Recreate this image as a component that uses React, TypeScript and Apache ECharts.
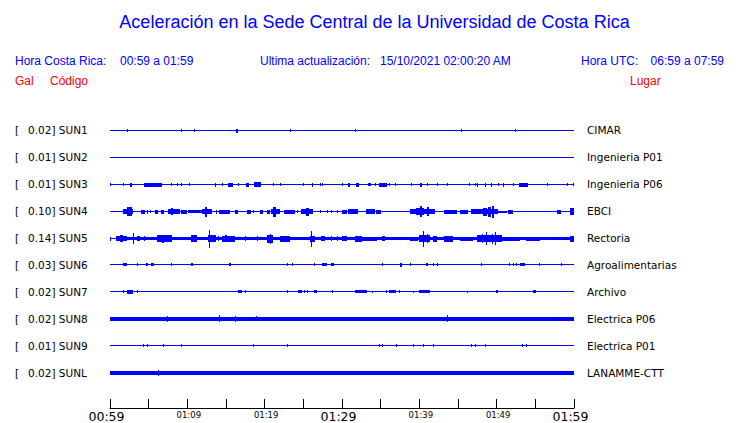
import React, { useEffect, useRef } from "react";
import * as echarts from "echarts";

// Station codes, peak values (gal) and places, top to bottom
const codes = ["SUN1", "SUN2", "SUN3", "SUN4", "SUN5", "SUN6", "SUN7", "SUN8", "SUN9", "SUNL"];
const gals = ["0.02", "0.01", "0.01", "0.10", "0.14", "0.03", "0.02", "0.02", "0.01", "0.02"];
const places = [
  "CIMAR",
  "Ingenieria P01",
  "Ingenieria P06",
  "EBCI",
  "Rectoria",
  "Agroalimentarias",
  "Archivo",
  "Electrica P06",
  "Electrica P01",
  "LANAMME-CTT",
];

// Time axis: minutes after 00:59, ticks every 5 min, labels every 10 min
const tickLabels = ["00:59", "01:09", "01:19", "01:29", "01:39", "01:49", "01:59"];
const majorLabels = ["00:59", "01:29", "01:59"];

// Waveform bursts per station: [start minute, end minute, half amplitude]
const sun1 = [[2.3, 2.3, 1], [9.2, 9.2, 1], [10.9, 10.9, 1], [16.4, 16.5, 1.5], [23.3, 23.3, 1], [31.7, 31.7, 1], [45.4, 45.4, 1], [52.4, 52.4, 1]];
const sun2: number[][] = [];
const sun3 = [[0.1, 0.1, 1], [1.8, 1.8, 1], [2.7, 2.9, 1.5], [4.5, 6.7, 1.5], [8.0, 8.0, 1], [8.7, 8.7, 1], [9.3, 9.3, 1], [10.3, 10.3, 1], [13.6, 13.6, 1.5], [14.6, 14.6, 1], [15.3, 15.9, 1.5], [16.6, 16.6, 1], [17.6, 18.0, 1.5], [18.7, 19.5, 2], [21.1, 21.1, 1], [22.1, 22.1, 1], [25.0, 25.0, 1], [26.2, 26.2, 1.5], [27.2, 27.2, 1], [27.5, 27.5, 1], [30.1, 30.1, 1], [30.8, 31.0, 1.5], [31.9, 32.2, 1.5], [33.4, 33.4, 1], [33.6, 33.7, 1], [34.3, 34.3, 1], [34.9, 35.8, 1.5], [36.2, 36.2, 1], [36.9, 36.9, 1], [39.0, 39.0, 1], [40.1, 40.3, 1.5], [41.0, 41.0, 1], [42.3, 42.3, 1], [43.6, 43.6, 1], [46.5, 46.5, 1], [47.2, 47.2, 1], [47.5, 47.6, 1.5], [48.5, 48.6, 1.5], [49.3, 49.4, 1.5], [50.2, 50.2, 1], [50.9, 51.0, 1.5], [52.2, 52.2, 1], [52.9, 54.0, 1.5], [56.6, 56.6, 1], [59.1, 59.1, 1], [59.9, 60, 1]];
const sun4 = [[1.8, 3.0, 2], [2.3, 2.8, 4], [4.1, 4.5, 1.5], [4.9, 4.9, 1.5], [5.2, 5.2, 1], [5.9, 6.2, 1.5], [6.6, 7.0, 1.5], [7.5, 9.1, 2], [8.0, 8.2, 3], [9.2, 10.0, 1.5], [10.1, 11.9, 1], [12.0, 13.2, 2], [12.3, 12.6, 4.5], [13.8, 13.8, 1.5], [14.2, 15.5, 1.5], [16.2, 16.6, 1.5], [17.8, 18.2, 1.5], [18.5, 18.5, 1], [19.4, 19.8, 1.5], [20.4, 20.7, 1.5], [20.9, 22.0, 2], [21.2, 21.5, 4.5], [22.6, 23.9, 1.5], [24.3, 24.3, 1], [24.8, 26.2, 2], [25.4, 25.7, 3.5], [27.2, 27.2, 1], [28.1, 28.1, 1], [28.7, 28.7, 1], [29.4, 29.4, 1], [30.0, 30.6, 1.5], [30.9, 32.1, 2], [33.2, 34.3, 2], [34.5, 35.0, 1.5], [38.9, 42.0, 2], [39.6, 40.6, 3], [40.1, 40.3, 5], [41.0, 41.2, 4], [43.3, 44.9, 1.5], [45.3, 46.3, 1.5], [46.8, 50.2, 2], [48.3, 48.7, 3.5], [49.0, 49.3, 4.5], [49.4, 49.6, 5.5], [50.3, 51.3, 0.5], [51.5, 52.1, 1.5], [57.9, 58.3, 1.5], [59.5, 60, 3]];
const sun5 = [[0.1, 0.1, 1.5], [0.9, 60, 1], [0.9, 2.2, 2], [1.4, 1.7, 3], [3.0, 3.0, 5], [3.5, 3.9, 2], [4.5, 4.5, 2], [6.1, 8.0, 3], [6.8, 7.0, 3.5], [10.6, 11.2, 3], [12.7, 13.7, 3], [12.9, 12.9, 8.5], [14.0, 14.0, 2], [14.5, 16.2, 2.5], [14.9, 15.1, 3], [17.5, 17.5, 2], [19.1, 19.1, 2], [20.4, 21.1, 3.5], [20.7, 20.7, 4.5], [22.0, 23.3, 2.5], [25.9, 26.5, 2.5], [26.1, 26.1, 7.5], [27.4, 27.8, 2], [28.7, 28.7, 2], [29.4, 29.4, 2], [30.0, 30.6, 2], [31.7, 32.6, 2.5], [32.7, 34.5, 1.5], [35.2, 35.6, 2], [38.8, 39.8, 1.5], [40.0, 41.4, 3], [40.5, 40.5, 7.5], [41.0, 41.0, 4], [41.8, 42.3, 2.5], [43.3, 44.4, 2.5], [45.3, 46.9, 1.5], [47.5, 50.7, 3], [48.2, 48.2, 4], [48.7, 48.7, 6], [49.4, 49.4, 4.5], [49.8, 49.8, 6], [50.8, 53.0, 1.5], [53.9, 55.6, 1.5], [59.5, 60, 2.5]];
const sun6 = [[1.8, 2.2, 1], [3.5, 3.5, 1], [4.7, 4.9, 1], [5.4, 5.7, 1], [7.9, 7.9, 1], [10.6, 10.7, 1], [15.4, 15.6, 1], [23.0, 23.0, 1], [23.6, 23.6, 1], [26.5, 26.5, 1], [27.5, 28.1, 1], [28.6, 29.0, 1], [35.3, 35.3, 1], [37.5, 37.8, 1.5], [38.9, 38.9, 1], [40.9, 41.1, 1], [41.8, 41.8, 1], [42.4, 42.4, 1], [48.1, 48.1, 1], [51.7, 51.7, 1], [52.2, 52.2, 1], [52.6, 52.6, 1], [53.1, 53.7, 1], [55.5, 55.5, 1], [58.4, 58.4, 1]];
const sun7 = [[1.7, 1.7, 1], [2.3, 3.0, 1.5], [3.5, 3.5, 1], [16.6, 17.1, 1], [17.5, 17.5, 1], [23.0, 23.0, 1], [24.4, 24.8, 1], [25.1, 25.1, 1], [25.5, 25.5, 1], [26.5, 26.8, 1], [28.8, 28.8, 1], [31.8, 33.2, 1], [33.9, 33.9, 0.5], [35.7, 35.7, 1], [36.2, 37.0, 1], [37.4, 37.4, 1], [39.2, 39.2, 0.5], [40.0, 41.4, 1], [46.2, 46.2, 0.5], [50.0, 50.2, 1], [54.8, 55.1, 1]];
const sun8 = [[0, 60, 1.5], [7.4, 7.4, 2.5], [14.1, 14.1, 3], [16.2, 16.2, 2.5], [19.0, 19.0, 2], [43.6, 43.6, 3]];
const sun9 = [[4.3, 4.3, 1], [4.9, 4.9, 1], [6.9, 6.9, 1], [9.2, 9.2, 1], [18.5, 18.5, 1], [22.9, 22.9, 1], [34.9, 34.9, 1], [35.3, 35.3, 1], [37.1, 37.1, 1], [39.3, 39.3, 1], [40.5, 40.5, 1], [41.8, 41.8, 1], [46.7, 46.7, 1], [47.3, 47.3, 1], [48.6, 48.6, 1], [53.3, 53.4, 1], [53.9, 53.9, 1]];
const sunL = [[0, 60, 1.5], [6.3, 6.3, 2.5]];

const traces = [sun1, sun2, sun3, sun4, sun5, sun6, sun7, sun8, sun9, sunL];

const BLUE = "#0000ff";
const RED = "#ff0000";
const AMP_PER_ROW = 27; // amplitude units per row spacing

export default function App() {
  const ref = useRef<HTMLDivElement>(null);

  useEffect(() => {
    if (!ref.current) return;
    const chart = echarts.init(ref.current, undefined, { renderer: "svg" });

    const data: number[][] = [];
    traces.forEach((tr, row) => {
      data.push([row, 0, 60, 0]);
      tr.forEach((b) => data.push([row, b[0], b[1], b[2]]));
    });

    const headerText = (text: string, x: number, y: number, color: string, size: number, align = "left") => ({
      type: "text",
      x,
      y,
      silent: true,
      style: {
        text,
        fill: color,
        fontSize: size,
        fontFamily: "Liberation Sans",
        textAlign: align,
        align,
        textVerticalAlign: "middle",
        verticalAlign: "middle",
      },
    });

    const labelFont = { fontFamily: "DejaVu Sans", fontSize: 10.5, color: "#000" };

    const option: any = {
      animation: false,
      backgroundColor: "#fff",
      graphic: [
        headerText("Aceleración en la Sede Central de la Universidad de Costa Rica", 374.5, 22, BLUE, 18, "center"),
        headerText("Hora Costa Rica:", 15, 61, BLUE, 12),
        headerText("00:59 a 01:59", 120, 61, BLUE, 12),
        headerText("Ultima actualización:", 260, 61, BLUE, 12),
        headerText("15/10/2021 02:00:20 AM", 380, 61, BLUE, 12),
        headerText("Hora UTC:", 581, 61, BLUE, 12),
        headerText("06:59 a 07:59", 724, 61, BLUE, 12, "right"),
        headerText("Gal", 15, 81, RED, 12),
        headerText("Código", 50, 81, RED, 12),
        headerText("Lugar", 630, 81, RED, 12),
      ],
      grid: { left: 110, right: 166, top: 117, height: 270, containLabel: false },
      xAxis: {
        type: "value",
        min: 0,
        max: 60,
        interval: 5,
        offset: 22,
        axisLine: { show: true, onZero: false, lineStyle: { color: "#000", width: 1 } },
        axisTick: { show: true, inside: true, length: 9, lineStyle: { color: "#000", width: 1 } },
        splitLine: { show: false },
        axisLabel: {
          margin: 2,
          formatter: (v: number) => {
            if (v % 10 !== 0) return "";
            const lab = tickLabels[v / 10];
            return majorLabels.includes(lab) ? `{big|${lab}}` : `{small|${lab}}`;
          },
          rich: {
            big: { fontFamily: "DejaVu Sans", fontSize: 12.5, color: "#000", padding: [0, 7, 0, 0] },
            small: { fontFamily: "DejaVu Sans", fontSize: 8.5, color: "#000", padding: [0, 0, 2, 3] },
          },
        },
      },
      yAxis: [
        {
          type: "category",
          data: codes,
          inverse: true,
          position: "left",
          axisLine: { show: false },
          axisTick: { show: false },
          splitLine: { show: false },
          axisLabel: {
            ...labelFont,
            align: "left",
            margin: 95,
            formatter: (v: string, i: number) => `{a|[}{b|${gals[i]}]} ${v}`,
            rich: {
              a: { ...labelFont, width: 13 },
              b: { ...labelFont },
            },
          },
        },
        {
          type: "category",
          data: places,
          inverse: true,
          position: "right",
          axisLine: { show: false },
          axisTick: { show: false },
          splitLine: { show: false },
          axisLabel: { ...labelFont, align: "left", margin: 13 },
        },
        { type: "value", min: -0.5, max: 9.5, inverse: true, show: false, splitLine: { show: false } },
      ],
      series: [
        {
          type: "custom",
          xAxisIndex: 0,
          yAxisIndex: 2,
          data,
          encode: { x: [1, 2], y: 0 },
          silent: true,
          renderItem: (_params: any, api: any) => {
            const row = api.value(0);
            const t0 = api.value(1);
            const t1 = api.value(2);
            const amp = api.value(3);
            const p0 = api.coord([t0, row]);
            const p1 = api.coord([t1, row]);
            const unit = api.size([0, 1])[1];
            const half = (amp / AMP_PER_ROW) * unit;
            const h = Math.max(1, Math.round(2 * half) + 1);
            const cy = Math.floor(p0[1]);
            const x = Math.floor(p0[0]);
            const w = Math.max(1, Math.round(p1[0]) - x);
            return {
              type: "rect",
              shape: { x, y: cy - Math.floor((h - 1) / 2), width: w, height: h },
              style: { fill: BLUE },
            };
          },
        },
      ],
    };

    chart.setOption(option);
    return () => chart.dispose();
  }, []);

  return (
    <div
      ref={ref}
      style={{ position: "absolute", left: 0, top: 0, width: 740, height: 423, background: "#fff" }}
    />
  );
}
